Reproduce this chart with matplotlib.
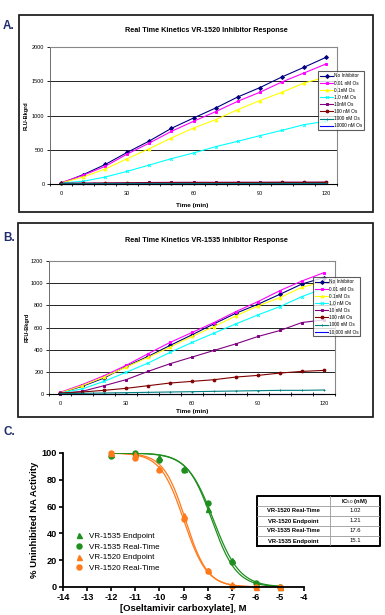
import numpy as np
import matplotlib
matplotlib.use("Agg")
import matplotlib.pyplot as plt
from matplotlib.patches import Rectangle

plt.rcParams["font.family"] = ["Liberation Sans", "DejaVu Sans"]

# ---- data -------------------------------------------------------------
time_min = [0, 10, 20, 30, 40, 50, 60, 70, 80, 90, 100, 110, 120]

labels_a = ["No Inhibitor", "0.01 nM Os", "0.1nM Os", "1.0 nM Os", "10nM Os",
            "100 nM Os", "1000 nM Os", "10000 nM Os"]
flu_a = [
    [10, 136, 285, 462, 628, 813, 963, 1109, 1270, 1406, 1562, 1703, 1849],
    [20, 127, 258, 438, 598, 769, 915, 1056, 1207, 1338, 1489, 1620, 1752],
    [15, 102, 219, 370, 516, 672, 817, 939, 1085, 1217, 1338, 1474, 1560],
    [15, 39, 102, 185, 277, 370, 453, 545, 623, 705, 783, 866, 915],
    [10, 12, 15, 18, 22, 24, 25, 25, 26, 26, 27, 27, 28],
    [8, 10, 12, 14, 16, 18, 19, 20, 21, 21, 22, 22, 23],
    [3, 4, 5, 5, 6, 6, 7, 7, 7, 8, 8, 8, 8],
    [0, 0, 0, 0, 0, 0, 0, 0, 0, 0, 0, 0, 0],
]

labels_b = ["No Inhibitor", "0.01 nM Os", "0.1nM Os", "1.0 nM Os", "10 nM Os",
            "100 nM Os", "1000 nM Os", "10,000 nM Os"]
rfu_b = [
    [9, 69, 144, 249, 339, 438, 534, 633, 729, 810, 900, 993, 1050],
    [15, 84, 165, 258, 363, 465, 555, 645, 744, 834, 933, 1020, 1095],
    [9, 75, 153, 243, 330, 423, 519, 609, 705, 795, 870, 963, 1014],
    [9, 45, 114, 195, 279, 375, 465, 549, 633, 714, 789, 879, 954],
    [3, 24, 75, 129, 204, 273, 333, 393, 453, 519, 573, 645, 669],
    [9, 18, 33, 51, 75, 99, 114, 129, 153, 168, 189, 204, 213],
    [3, 6, 9, 12, 15, 18, 21, 24, 27, 30, 33, 33, 36],
    [0, 0, 0, 0, 0, 0, 0, 0, 0, 0, 0, 0, 0],
]

series_colors = ["#000080", "#ff00ff", "#ffff00", "#00ffff", "#800080",
                 "#800000", "#008080", "#0000ff"]
series_markers = ["D", "s", "^", "x", "s", "o", "+", "_"]

log_conc = [-12, -11, -10, -9, -8, -7, -6, -5]
vr1535_endpoint = [99, 100, 97, 88, 58, 20, 3, 0]
vr1535_realtime = [98, 100, 95, 87, 63, 19, 3, 0]
vr1520_endpoint = [100, 99, 89, 54, 13, 2, 0, 0]
vr1520_realtime = [100, 96, 87, 51, 12, 1, 0, 0]

table_rows = ["VR-1520 Real-Time", "VR-1520 Endpoint", "VR-1535 Real-Time", "VR-1535 Endpoint"]
ic50_nm = [1.02, 1.21, 17.6, 15.1]
hill_slopes = [0.9, 0.95, 0.8, 0.85]

green = "#1f8f1f"
orange = "#ff7a1a"
navy = "#1f2d6e"

W, H = 385, 615
fig = plt.figure(figsize=(W / 100, H / 100), dpi=100)


def fig_rect(x0, y0, x1, y1):
    return [x0 / W, 1 - y1 / H, (x1 - x0) / W, (y1 - y0) / H]


def frame(x0, y0, x1, y1):
    fig.patches.append(Rectangle((x0 / W, 1 - y1 / H), (x1 - x0) / W, (y1 - y0) / H,
                                 transform=fig.transFigure, fill=False,
                                 edgecolor="#222222", linewidth=1.3))


def kinetics_panel(rect, data, labels, ymax, ystep, title, ylabel, title_y, xlabel_y,
                   legend_xy, ylabel_x):
    ax = fig.add_axes(rect)
    for vals, lab, c, m in zip(data, labels, series_colors, series_markers):
        ax.plot(time_min, vals, color=c, marker=m, markersize=2.0, linewidth=0.8,
                markeredgewidth=0.7, label=lab, clip_on=False)
    ax.set_xlim(-5, 125)
    ax.set_ylim(0, ymax)
    ax.set_yticks(np.arange(0, ymax + 1, ystep))
    ax.set_xticks([0, 30, 60, 90, 120])
    ax.set_xticks(np.arange(-5, 126, 10), minor=True)
    ax.tick_params(axis="x", which="major", length=0, labelsize=4, pad=5)
    ax.tick_params(axis="x", which="minor", length=2.5, width=0.6, direction="inout")
    ax.tick_params(axis="y", length=2, width=0.6, labelsize=4, pad=2)
    ax.grid(axis="y", color="black", linewidth=0.6)
    for s in ["top", "right"]:
        ax.spines[s].set_color("#888888")
        ax.spines[s].set_linewidth(0.8)
    ax.spines["left"].set_color("#555555")
    ax.spines["left"].set_linewidth(0.6)
    ax.spines["bottom"].set_color("black")
    ax.spines["bottom"].set_linewidth(0.8)
    fig.text(0.535, 1 - title_y / H, title, ha="center", va="center",
             fontsize=5.2, fontweight="bold")
    fig.text(0.5, 1 - xlabel_y / H, "Time (min)", ha="center", va="center",
             fontsize=4.6, fontweight="bold")
    fig.text(ylabel_x / W, rect[1] + rect[3] / 2, ylabel, ha="center", va="center",
             rotation=90, fontsize=4, fontweight="bold")
    leg = ax.legend(loc="upper left", bbox_to_anchor=(legend_xy[0] / W, 1 - legend_xy[1] / H),
                    bbox_transform=fig.transFigure, fontsize=3.4, handlelength=2.6,
                    handletextpad=0.2, labelspacing=0.45, borderpad=0.45,
                    frameon=True, fancybox=False, edgecolor="#333333")
    leg.get_frame().set_linewidth(0.8)
    return ax


# ---- panel A ----------------------------------------------------------
frame(19, 15, 373, 212)
kinetics_panel(fig_rect(50, 47, 337, 184), flu_a, labels_a, 2000, 500,
               "Real Time Kinetics VR-1520 Inhibitor Response", "FLU-Bkgrd",
               31, 206, (316, 69), 26)
fig.text(3 / W, 1 - 26 / H, "A.", fontsize=8.5, fontweight="bold", color=navy,
         ha="left", va="center")

# ---- panel B ----------------------------------------------------------
frame(18, 223, 373, 417)
kinetics_panel(fig_rect(49, 261, 335, 394), rfu_b, labels_b, 1200, 200,
               "Real Time Kinetics VR-1535 Inhibitor Response", "RFU-Bkgrd",
               240, 411, (311, 275), 27)
fig.text(3 / W, 1 - 238 / H, "B.", fontsize=8.5, fontweight="bold", color=navy,
         ha="left", va="center")

# ---- panel C ----------------------------------------------------------
fig.text(4 / W, 1 - 432 / H, "C.", fontsize=8.5, fontweight="bold", color=navy,
         ha="left", va="center")
axc = fig.add_axes(fig_rect(63, 453, 304, 587))
xs = np.linspace(-12, -5, 300)
curve_colors = [orange, orange, green, green]
for ic50, slope, c in zip(ic50_nm, hill_slopes, curve_colors):
    log_ic50 = np.log10(ic50 * 1e-9)
    axc.plot(xs, 100 / (1 + 10 ** ((xs - log_ic50) * slope)), color=c, linewidth=0.9)

axc.plot(log_conc, vr1535_endpoint, "^", color=green, markersize=3.6, clip_on=False,
         label="VR-1535 Endpoint")
axc.plot(log_conc, vr1535_realtime, "o", color=green, markersize=3.6, clip_on=False,
         label="VR-1535 Real-Time")
axc.plot(log_conc, vr1520_endpoint, "^", color=orange, markersize=3.6, clip_on=False,
         label="VR-1520 Endpoint")
axc.plot(log_conc, vr1520_realtime, "o", color=orange, markersize=3.6, clip_on=False,
         label="VR-1520 Real-Time")

axc.set_xlim(-14, -4)
axc.set_ylim(0, 100)
axc.set_xticks(np.arange(-14, -3, 1))
axc.set_yticks(np.arange(0, 101, 20))
axc.set_xticklabels([str(v) for v in range(-14, -3)])
axc.spines["top"].set_visible(False)
axc.spines["right"].set_visible(False)
for s in ["left", "bottom"]:
    axc.spines[s].set_linewidth(1.3)
axc.tick_params(length=3, width=1.2, labelsize=6.6, pad=1.5)
for t in axc.get_xticklabels() + axc.get_yticklabels():
    t.set_fontweight("bold")
axc.set_xlabel("[Oseltamivir carboxylate], M", fontsize=6.8, fontweight="bold", labelpad=1)
axc.set_ylabel("% Uninhibited NA Activity", fontsize=6.8, fontweight="bold", labelpad=2)
axc.legend(loc="upper left", bbox_to_anchor=(70 / W, 1 - 528 / H),
           bbox_transform=fig.transFigure, fontsize=5.8, frameon=False,
           handlelength=1.2, handletextpad=0.6, labelspacing=0.4, borderpad=0)

# IC50 table
axt = fig.add_axes(fig_rect(257, 496, 380, 546))
axt.set_xlim(0, 1)
axt.set_ylim(0, 5)
axt.axis("off")
split = 73 / 123
axt.plot([0, 1, 1, 0, 0], [0, 0, 5, 5, 0], color="black", linewidth=1.4,
         clip_on=False)
axt.plot([split, split], [0, 5], color="#999999", linewidth=0.6)
for k in range(1, 5):
    axt.plot([0, 1], [k, k], color="#999999", linewidth=0.6)
axt.text((split + 1) / 2, 4.5, "IC$_{50}$ (nM)", ha="center", va="center",
         fontsize=4.2, fontweight="bold")
for i, (name, val) in enumerate(zip(table_rows, ic50_nm)):
    yc = 3.5 - i
    axt.text(split / 2, yc, name, ha="center", va="center", fontsize=4.2,
             fontweight="bold")
    axt.text((split + 1) / 2, yc, f"{val:g}", ha="center", va="center", fontsize=4.2)

fig.savefig("out.png", dpi=100)
